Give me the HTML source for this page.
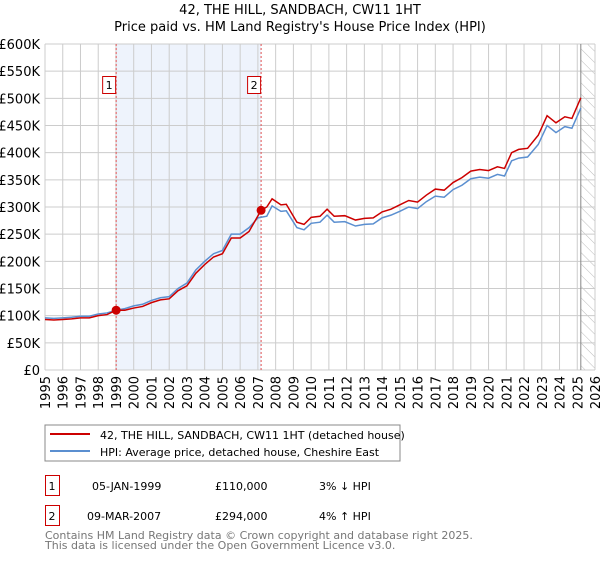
<!DOCTYPE html>
<html><head><meta charset="utf-8"><style>
body{margin:0;background:#fff;font-family:"DejaVu Sans","Liberation Sans",sans-serif;}
svg text{font-family:"DejaVu Sans","Liberation Sans",sans-serif;}
</style></head><body>
<svg id="c" width="600" height="560" xmlns="http://www.w3.org/2000/svg">
<defs><pattern id="hatch" width="8" height="8" patternUnits="userSpaceOnUse" patternTransform="rotate(-45)"><line x1="0" y1="0" x2="0" y2="8" stroke="#bbb" stroke-width="1"/></pattern></defs>
<text x="300" y="14" text-anchor="middle" font-size="13" fill="#000">42, THE HILL, SANDBACH, CW11 1HT</text>
<text x="300" y="31" text-anchor="middle" font-size="13" fill="#000">Price paid vs. HM Land Registry's House Price Index (HPI)</text>
<g id="plot"></g>
<rect x="45" y="425" width="355" height="36" fill="#fff" stroke="#888"/>
<line x1="50" y1="434" x2="90" y2="434" stroke="#cc0000" stroke-width="2"/>
<text x="100" y="439" font-size="11">42, THE HILL, SANDBACH, CW11 1HT (detached house)</text>
<line x1="50" y1="451" x2="90" y2="451" stroke="#5b8fd0" stroke-width="2"/>
<text x="100" y="456" font-size="11">HPI: Average price, detached house, Cheshire East</text>
<g>
<rect x="45.5" y="475.5" width="14" height="20" fill="#fff" stroke="#cc0000"/>
<text x="52" y="490" font-size="11" text-anchor="middle">1</text>
<text x="92" y="490" font-size="11">05-JAN-1999</text>
<text x="215" y="490" font-size="11">£110,000</text>
<text x="319" y="490" font-size="11">3% ↓ HPI</text></g>
<g>
<rect x="45.5" y="505.5" width="14" height="20" fill="#fff" stroke="#cc0000"/>
<text x="52" y="520" font-size="11" text-anchor="middle">2</text>
<text x="87" y="520" font-size="11">09-MAR-2007</text>
<text x="215" y="520" font-size="11">£294,000</text>
<text x="319" y="520" font-size="11">4% ↑ HPI</text></g>
<text x="45" y="539" font-size="11" fill="#777">Contains HM Land Registry data © Crown copyright and database right 2025.</text>
<text x="45" y="549" font-size="11" fill="#777">This data is licensed under the Open Government Licence v3.0.</text>
</svg>
<script>
const hpiYears=[1995,1995.5,1996,1996.5,1997,1997.5,1998,1998.5,1999,1999.5,2000,2000.5,2001,2001.5,2002,2002.5,2003,2003.5,2004,2004.5,2005,2005.5,2006,2006.5,2007,2007.5,2007.8,2008.3,2008.6,2009.2,2009.6,2010,2010.5,2010.9,2011.3,2011.9,2012.5,2013,2013.5,2014,2014.5,2015,2015.5,2016,2016.5,2017,2017.5,2018,2018.5,2019,2019.5,2020,2020.5,2020.9,2021.3,2021.7,2022.2,2022.8,2023.3,2023.8,2024.3,2024.7,2025.2];
const hpiValues=[96,95,96,97,99,99,103,105,110,113,118,121,128,133,135,150,160,184,200,214,220,250,250,262,280,283,302,292,293,262,258,270,272,285,272,273,265,268,269,280,285,292,300,297,310,320,318,332,340,352,355,353,360,357,385,390,392,415,450,437,448,445,482];
const ppYears=[1995,1995.5,1996,1996.5,1997,1997.5,1998,1998.5,1999.01,1999.5,2000,2000.5,2001,2001.5,2002,2002.5,2003,2003.5,2004,2004.5,2005,2005.5,2006,2006.5,2007.18,2007.5,2007.8,2008.3,2008.6,2009.2,2009.6,2010,2010.5,2010.9,2011.3,2011.9,2012.5,2013,2013.5,2014,2014.5,2015,2015.5,2016,2016.5,2017,2017.5,2018,2018.5,2019,2019.5,2020,2020.5,2020.9,2021.3,2021.7,2022.2,2022.8,2023.3,2023.8,2024.3,2024.7,2025.2];
const ppValues=[93,92,93,94,96,96,100,102,110,110,114,117,124,129,131,146,155,178,194,208,214,243,243,255,294,300,315,304,305,272,268,281,283,296,283,284,276,279,280,291,296,304,312,309,322,333,331,345,354,366,369,367,374,371,400,406,408,432,468,455,466,463,501];
const sales=[{n:"1",year:1999.01,price:110},{n:"2",year:2007.18,price:294}];
const yTicks=[0,50,100,150,200,250,300,350,400,450,500,550,600];
const xTicks=[1995,1996,1997,1998,1999,2000,2001,2002,2003,2004,2005,2006,2007,2008,2009,2010,2011,2012,2013,2014,2015,2016,2017,2018,2019,2020,2021,2022,2023,2024,2025,2026];
const X0=45,X1=595,Y0=370,Y1=44;
const x=v=>X0+(v-1995)/(2026-1995)*(X1-X0);
const y=v=>Y0-v/600*(Y0-Y1);
const NS="http://www.w3.org/2000/svg";
const g=document.getElementById('plot');
function mk(t,a){const e=document.createElementNS(NS,t);for(const k in a)e.setAttribute(k,a[k]);g.appendChild(e);return e;}
let e=mk('rect',{x:X0,y:Y1,width:X1-X0,height:Y0-Y1,fill:'#fff'});


e=mk('rect',{x:x(sales[0].year),y:Y1,width:x(sales[1].year)-x(sales[0].year),height:Y0-Y1,fill:'#eef3fc'});


e=mk('rect',{x:x(2025.2),y:Y1,width:X1-x(2025.2),height:Y0-Y1,fill:'url(#hatch)'});


yTicks.forEach(v=>{
 e=mk('line',{x1:X0,x2:X1,y1:y(v),y2:y(v),stroke:'#ccc','stroke-width':1});
 
 
 e=mk('text',{x:40,y:y(v)+5,'text-anchor':'end','font-size':13});
 e.textContent=v===0?'£0':'£'+v+'K';
 
 
});
xTicks.forEach(v=>{
 e=mk('line',{x1:x(v),x2:x(v),y1:Y1,y2:Y0,stroke:'#ccc','stroke-width':1});
 
 
 e=mk('text',{x:0,y:0,'font-size':13,'text-anchor':'end',transform:`translate(${x(v)+5},${Y0+6}) rotate(-90)`});
 e.textContent=v;
 
 
});
e=mk('line',{x1:x(2025.2),x2:x(2025.2),y1:Y1,y2:Y0,stroke:'#888','stroke-width':1});


sales.forEach(s=>{
 e=mk('line',{x1:x(s.year),x2:x(s.year),y1:Y1,y2:Y0,stroke:'#e05050','stroke-width':1,'stroke-dasharray':'2,2'});
 
 
 e=mk('rect',{x:x(s.year)-13.5,y:76.5,width:13,height:17,fill:'#fff',stroke:'#cc0000'});
 
 
 e=mk('text',{x:x(s.year)-7,y:89,'font-size':11,'text-anchor':'middle'});
 e.textContent=s.n;
 
 
});
e=mk('polyline',{points:hpiYears.map((t,i)=>x(t)+','+y(hpiValues[i])).join(' '),fill:'none',stroke:'#5b8fd0','stroke-width':1.5});


e=mk('polyline',{points:ppYears.map((t,i)=>x(t)+','+y(ppValues[i])).join(' '),fill:'none',stroke:'#cc0000','stroke-width':1.5});


sales.forEach(s=>{
 e=mk('circle',{cx:x(s.year),cy:y(s.price),r:4.5,fill:'#cc0000'});
 
 
});
</script>
</body></html>
